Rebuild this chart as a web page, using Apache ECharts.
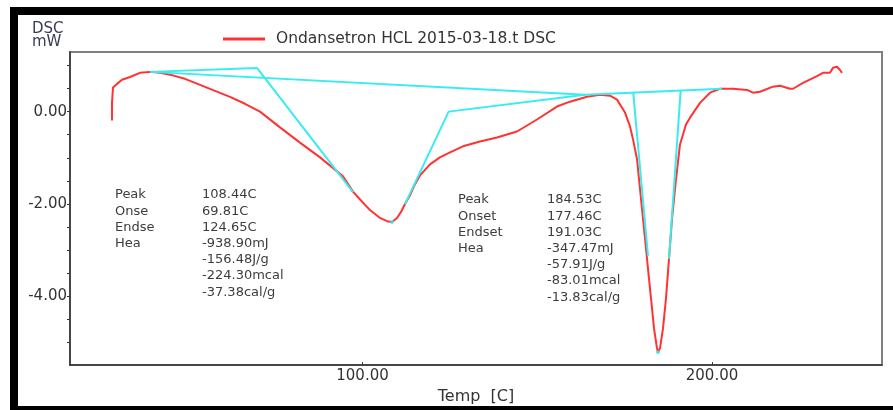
<!DOCTYPE html>
<html>
<head>
<meta charset="utf-8">
<script src="https://cdn.jsdelivr.net/npm/echarts@6/dist/echarts.min.js"></script>
<style>
  html, body { margin: 0; padding: 0; background: #fff; }
  #chart { width: 893px; height: 410px; }
</style>
</head>
<body>
<div id="chart"></div>
<script>
// DSC trace: sample temperature (°C) and heat flow (mW)
const tempC = [28.33, 28.33, 28.61, 29.75, 31.19, 33.48, 36.34, 39.20, 42.06, 44.92,
  49.21, 53.51, 57.80, 62.09, 66.38, 70.67, 76.39, 82.12, 87.84, 94.42,
  97.28, 98.43, 102.15, 105.01, 107.01, 108.44, 109.87, 111.02, 112.16, 113.59,
  115.02, 116.45, 119.31, 122.17, 125.04, 128.76, 133.62, 138.48, 144.21, 149.93,
  155.65, 159.37, 164.23, 167.95, 170.82, 172.82, 175.11, 176.54, 177.40, 178.55,
  179.69, 180.84, 181.69, 182.55, 183.41, 184.26, 184.53, 185.12, 185.98, 186.84,
  187.70, 188.56, 189.70, 190.84, 192.56, 193.71, 196.57, 199.43, 202.29, 206.01,
  210.01, 211.73, 213.73, 217.45, 219.46, 222.32, 223.18, 226.04, 230.04, 231.76,
  232.90, 233.76, 234.62, 235.77, 236.62, 237.20];
const heatFlow = [-0.19, 0.19, 0.52, 0.60, 0.69, 0.75, 0.84, 0.86, 0.84, 0.80,
  0.71, 0.58, 0.45, 0.32, 0.17, 0.00, -0.34, -0.67, -0.99, -1.40,
  -1.73, -1.83, -2.13, -2.30, -2.37, -2.387, -2.30, -2.17, -2.00, -1.81,
  -1.57, -1.38, -1.14, -0.99, -0.88, -0.75, -0.645, -0.56, -0.43, -0.17,
  0.11, 0.215, 0.32, 0.366, 0.344, 0.26, -0.02, -0.32, -0.60, -1.03,
  -1.89, -2.75, -3.40, -4.04, -4.69, -5.12, -5.204, -5.12, -4.69, -4.04,
  -3.18, -2.32, -1.46, -0.71, -0.28, -0.13, 0.19, 0.41, 0.495, 0.495,
  0.47, 0.41, 0.43, 0.54, 0.56, 0.495, 0.495, 0.62, 0.77, 0.84,
  0.84, 0.84, 0.95, 0.97, 0.90, 0.84];

// Peak analysis results
const peakTemps = [108.44, 184.53];
const peakHeat = [-2.387, -5.204];
const onsetTemps = [69.81, 177.46];
const endsetTemps = [124.65, 191.03];
const heatTextsA = ['-938.90mJ', '-156.48J/g', '-224.30mcal', '-37.38cal/g'];
const heatTextsB = ['-347.47mJ', '-57.91J/g', '-83.01mcal', '-13.83cal/g'];

// Analysis construction lines (baselines and tangents)
const startTangentT = [39.20, onsetTemps[0], 97.28];
const startTangentV = [0.860, 0.946, -1.742];
const endTangentT = [112.16, endsetTemps[0], 163.66];
const endTangentV = [-2.000, 0.000, 0.366];
const longBaseT = [39.20, 163.66];
const longBaseV = [0.860, 0.366];
const secondBaseT = [163.66, 202.86];
const secondBaseV = [0.366, 0.495];
const onset2T = [onsetTemps[1], 181.69];
const onset2V = [0.411, -3.118];
const endset2T = [endsetTemps[1], 187.70];
const endset2V = [0.454, -3.183];

// Axis ticks and labels
const yTickValues = [-5.5, -5.0, -4.5, -4.0, -3.5, -3.0, -2.5, -2.0, -1.5, -1.0, -0.5, 0.0, 0.5, 1.0];
const yLabelValues = [0, -2, -4];
const xTickValues = [100, 200];

const zip = (a, b) => a.map((v, i) => [v, b[i]]);
const seriesName = 'Ondansetron HCL 2015-03-18.t DSC';
const CYAN = '#38ecef';
const RED = '#ff3333';
const FONT = 'DejaVu Sans';

function cyanLine(t, v) {
  return {
    type: 'line', data: zip(t, v), showSymbol: false, silent: true, z: 4,
    lineStyle: { color: CYAN, width: 2 }, itemStyle: { color: CYAN }
  };
}

function textBlock(x0, x1, y0, labels, values) {
  const out = [];
  const step = 16.2;
  labels.forEach((s, i) => out.push({
    type: 'text', x: x0, y: y0 + i * step,
    style: { text: s, fill: '#3d3d3d', font: '13px "' + FONT + '"', verticalAlign: 'middle' }
  }));
  values.forEach((s, i) => out.push({
    type: 'text', x: x1, y: y0 + i * step,
    style: { text: s, fill: '#3d3d3d', font: '13px "' + FONT + '"', verticalAlign: 'middle' }
  }));
  return out;
}

const fmtC = t => t.toFixed(2) + 'C';

const chart = echarts.init(document.getElementById('chart'));
chart.setOption({
  animation: false,
  backgroundColor: '#fff',
  grid: {
    left: 70, top: 52, right: 11, bottom: 43,
    show: true, borderColor: '#808080', borderWidth: 2
  },
  legend: {
    left: 218, top: 26,
    icon: 'rect', itemWidth: 42, itemHeight: 3,
    data: [seriesName],
    textStyle: { fontFamily: FONT, fontSize: 15.5, color: '#333', padding: [0, 0, 0, 6] }
  },
  xAxis: {
    type: 'value', min: 16.31, max: 248.64,
    splitLine: { show: false },
    axisLine: { onZero: false, lineStyle: { color: '#333', width: 1.5 } },
    axisTick: { inside: true, length: 3, customValues: xTickValues, lineStyle: { color: '#333' } },
    axisLabel: {
      customValues: xTickValues, margin: 4,
      formatter: v => v.toFixed(2),
      fontFamily: FONT, fontSize: 15, color: '#333'
    },
    name: 'Temp  [C]', nameLocation: 'middle', nameGap: 18,
    nameTextStyle: { fontFamily: FONT, fontSize: 16, color: '#333' }
  },
  yAxis: {
    type: 'value', min: -5.484, max: 1.290,
    splitLine: { show: false },
    axisLine: { show: true, onZero: false, lineStyle: { color: '#333', width: 1.5 } },
    axisTick: { show: true, length: 3, customValues: yTickValues, lineStyle: { color: '#333' } },
    axisLabel: {
      customValues: yLabelValues, margin: 3,
      formatter: v => v.toFixed(2),
      fontFamily: FONT, fontSize: 15, color: '#333'
    }
  },
  series: [
    {
      name: seriesName, type: 'line', data: zip(tempC, heatFlow),
      showSymbol: false, z: 3,
      lineStyle: { color: RED, width: 2 }, itemStyle: { color: RED }
    },
    cyanLine(startTangentT, startTangentV),
    cyanLine(endTangentT, endTangentV),
    cyanLine(longBaseT, longBaseV),
    cyanLine(secondBaseT, secondBaseV),
    cyanLine(onset2T, onset2V),
    cyanLine(endset2T, endset2V),
    {
      type: 'scatter', data: zip(peakTemps, peakHeat), symbolSize: 4, z: 5, silent: true,
      itemStyle: { color: CYAN }
    }
  ],
  graphic: [
    // outer frame
    { type: 'rect', shape: { x: 10, y: 7, width: 883, height: 8 }, style: { fill: '#000' } },
    { type: 'rect', shape: { x: 10, y: 7, width: 8, height: 403 }, style: { fill: '#000' } },
    { type: 'rect', shape: { x: 10, y: 406, width: 883, height: 4 }, style: { fill: '#000' } },
    // y axis title
    { type: 'text', x: 32, y: 29, style: { text: 'DSC', fill: '#3a3a58', font: '15px "' + FONT + '"', verticalAlign: 'middle' } },
    { type: 'text', x: 32, y: 42, style: { text: 'mW', fill: '#3a3a58', font: '15px "' + FONT + '"', verticalAlign: 'middle' } },
    // peak reports
    ...textBlock(115, 202, 195, ['Peak', 'Onse', 'Endse', 'Hea'],
      [fmtC(peakTemps[0]), fmtC(onsetTemps[0]), fmtC(endsetTemps[0])].concat(heatTextsA)),
    ...textBlock(458, 547, 200, ['Peak', 'Onset', 'Endset', 'Hea'],
      [fmtC(peakTemps[1]), fmtC(onsetTemps[1]), fmtC(endsetTemps[1])].concat(heatTextsB))
  ]
});
</script>
</body>
</html>
